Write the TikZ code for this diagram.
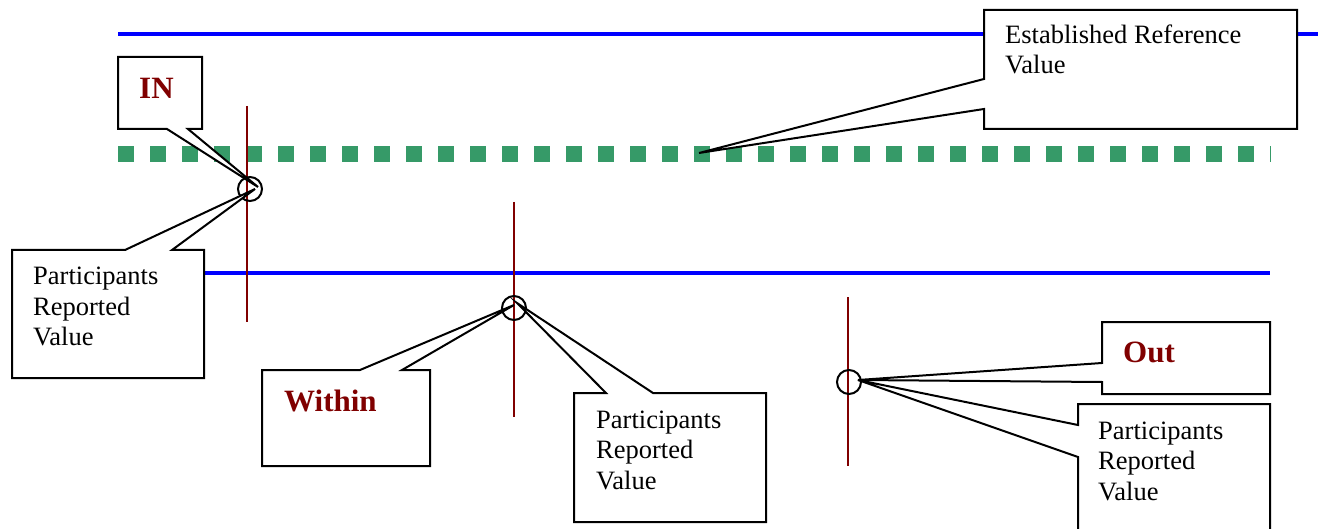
\documentclass[tikz,border=0pt]{standalone}
\usepackage{fontspec}
\setmainfont{Liberation Serif}
\definecolor{refgreen}{RGB}{54,154,104}
\definecolor{refblue}{RGB}{0,0,255}
\definecolor{darkred}{RGB}{128,0,0}
\tikzset{
  bluerule/.style={draw=refblue, line width=4pt},
  refrule/.style={draw=refgreen, line width=16pt, dash pattern=on 16pt off 16pt},
  marker/.style={draw=darkred, line width=2pt},
  dot/.style={circle, draw=black, line width=2pt, minimum size=24pt, inner sep=0pt},
  callout/.style={draw=black, fill=white, line width=2pt, line join=miter},
  plain/.style={anchor=base west, inner sep=0pt, font=\fontsize{26.5}{30}\selectfont},
  label/.style={anchor=base west, inner sep=0pt, text=darkred, font=\fontsize{31}{36}\selectfont\bfseries}
}
\begin{document}
\begin{tikzpicture}[x=1pt,y=-1pt]
\useasboundingbox (0,0) rectangle (1322,529);
% horizontal rules
\draw[bluerule] (118,34) -- (1318,34);
\draw[bluerule] (118,273) -- (1270,273);
\draw[refrule] (118,154) -- (1271,154);
% vertical markers
\draw[marker] (247,106) -- (247,322);
\draw[marker] (514,202) -- (514,417);
\draw[marker] (848,297) -- (848,466);
% reported-value points
\node[dot] (pin) at (250,189) {};
\node[dot] (pwithin) at (514,308) {};
\node[dot] (pout) at (849,382) {};
% callout tips
\coordinate (tinA) at (258,187);
\coordinate (tinB) at (255,189);
\coordinate (tref) at (699,153);
\coordinate (twA) at (514,305);
\coordinate (twB) at (517,303);
\coordinate (tout) at (858,380);
% callouts
\draw[callout] (118,57) -- (202,57) -- (202,129) -- (188,129) -- (tinA) -- (167,129) -- (118,129) -- cycle;
\draw[callout] (12,250) -- (125,250) -- (tinB) -- (172,250) -- (204,250) -- (204,378) -- (12,378) -- cycle;
\draw[callout] (984,10) -- (1297,10) -- (1297,129) -- (984,129) -- (984,109) -- (tref) -- (984,79) -- cycle;
\draw[callout] (262,370) -- (360,370) -- (twA) -- (402,370) -- (430,370) -- (430,466) -- (262,466) -- cycle;
\draw[callout] (574,393) -- (606,393) -- (twB) -- (653,393) -- (766,393) -- (766,522) -- (574,522) -- cycle;
\draw[callout] (1102,322) -- (1270,322) -- (1270,394) -- (1102,394) -- (1102,382) -- (tout) -- (1102,363) -- cycle;
\draw[callout] (1078,404) -- (1270,404) -- (1270,540) -- (1078,540) -- (1078,457) -- (tout) -- (1078,425) -- cycle;
% texts
\node[label] (lin) at (139,99) {IN};
\node[label] (lwithin) at (284,411) {Within};
\node[label] (lout) at (1123,362) {Out};
\node[plain] (ref1) at (1005,44) {Established Reference};
\node[plain] (ref2) at (1005,74) {Value};
\node[plain] (pa1) at (33,285) {Participants};
\node[plain] (pa2) at (33,315) {Reported};
\node[plain] (pa3) at (33,345) {Value};
\node[plain] (pb1) at (596,428) {Participants};
\node[plain] (pb2) at (596,458.5) {Reported};
\node[plain] (pb3) at (596,489) {Value};
\node[plain] (pc1) at (1098,439) {Participants};
\node[plain] (pc2) at (1098,469.5) {Reported};
\node[plain] (pc3) at (1098,500) {Value};
\end{tikzpicture}
\end{document}
